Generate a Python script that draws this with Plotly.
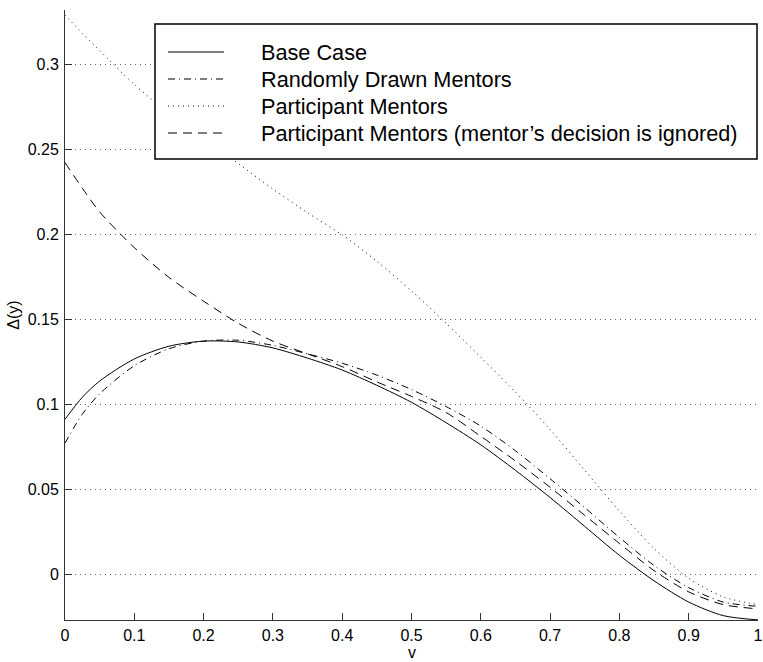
import plotly.graph_objects as go

# Grid of v values at which each curve is tabulated
v = [0.0, 0.025, 0.05, 0.1, 0.15, 0.2, 0.25, 0.3, 0.35, 0.4, 0.45, 0.5,
     0.55, 0.6, 0.65, 0.7, 0.75, 0.8, 0.85, 0.9, 0.95, 1.0]

base_case = [0.091, 0.104, 0.1135, 0.1265, 0.134, 0.137, 0.1365, 0.133, 0.127,
             0.120, 0.111, 0.101, 0.089, 0.076, 0.061, 0.045, 0.028, 0.011,
             -0.004, -0.0165, -0.0245, -0.027]

random_mentors = [0.077, 0.094, 0.106, 0.1225, 0.1325, 0.137, 0.1375, 0.1345,
                  0.1295, 0.124, 0.117, 0.1085, 0.0985, 0.087, 0.0725, 0.056,
                  0.039, 0.0215, 0.005, -0.008, -0.0165, -0.019]

participant_mentors = [0.329, 0.318, 0.308, 0.288, 0.271, 0.2565, 0.2415, 0.2265,
                       0.2125, 0.1995, 0.184, 0.1665, 0.1475, 0.1275, 0.107, 0.085,
                       0.061, 0.037, 0.015, -0.0025, -0.0135, -0.018]

participant_ignored = [0.242, 0.227, 0.213, 0.192, 0.1745, 0.1605, 0.1475, 0.137,
                       0.1295, 0.122, 0.113, 0.1045, 0.095, 0.081, 0.0665, 0.051,
                       0.0345, 0.018, 0.002, -0.0105, -0.018, -0.0205]

series_names = ["Base Case", "Randomly Drawn Mentors", "Participant Mentors",
                "Participant Mentors (mentor\u2019s decision is ignored)"]

x_ticks = [0, 0.1, 0.2, 0.3, 0.4, 0.5, 0.6, 0.7, 0.8, 0.9, 1]
x_tick_labels = ["0", "0.1", "0.2", "0.3", "0.4", "0.5", "0.6", "0.7", "0.8", "0.9", "1"]
y_ticks = [0, 0.05, 0.1, 0.15, 0.2, 0.25, 0.3]
y_tick_labels = ["0", "0.05", "0.1", "0.15", "0.2", "0.25", "0.3"]

FONT = "Liberation Sans, Arial, Helvetica, sans-serif"

# Figure geometry (pixels)
W, H = 763, 662
ML, MR, MT, MB = 65, 5, 10, 42
PW, PH = W - ML - MR, H - MT - MB


def px_x(px):
    return (px - ML) / PW


def px_y(py):
    return (H - MB - py) / PH


styles = ["solid", "7px,4px,1px,4px", "1px,4px", "9px,6px"]
data = [base_case, random_mentors, participant_mentors, participant_ignored]

fig = go.Figure()
for name, ys, dash in zip(series_names, data, styles):
    fig.add_trace(go.Scatter(
        x=v, y=ys, mode="lines", name=name, showlegend=False,
        line=dict(color="black", width=1, dash=dash, shape="spline", smoothing=0.8),
    ))

# Boxed key in the upper part of the axes
shapes = [dict(
    type="rect", xref="paper", yref="paper", layer="above",
    x0=px_x(155), x1=px_x(757), y0=px_y(159), y1=px_y(24),
    line=dict(color="black", width=1.5), fillcolor="white",
)]
annotations = []
row_centers = [52, 79, 106, 133]
for name, dash, py in zip(series_names, styles, row_centers):
    shapes.append(dict(
        type="line", xref="paper", yref="paper", layer="above",
        x0=px_x(168), x1=px_x(224), y0=px_y(py), y1=px_y(py),
        line=dict(color="black", width=1, dash=dash),
    ))
    annotations.append(dict(
        text=name, xref="paper", yref="paper", x=px_x(259), y=px_y(py),
        xanchor="left", yanchor="middle", showarrow=False,
        font=dict(family=FONT, size=21.7, color="black"),
    ))

# x-axis label placed at the bottom edge, under the tick labels
annotations.append(dict(
    text="v", xref="paper", yref="paper", x=0.5, y=px_y(662),
    xanchor="center", yanchor="bottom", showarrow=False, borderpad=0,
    font=dict(family=FONT, size=16, color="black"),
))

fig.update_layout(
    width=W, height=H,
    margin=dict(l=ML, r=MR, t=MT, b=MB, autoexpand=False),
    paper_bgcolor="white", plot_bgcolor="white",
    font=dict(family=FONT, size=16, color="black"),
    showlegend=False,
    shapes=shapes,
    annotations=annotations,
    xaxis=dict(
        range=[0, 1], tickvals=x_ticks, ticktext=x_tick_labels,
        showgrid=False, zeroline=False,
        showline=True, linecolor="#333", linewidth=1,
        ticks="inside", ticklen=7, tickcolor="#333",
        ticklabelstandoff=1,
    ),
    yaxis=dict(
        range=[-0.02706, 0.3318], tickvals=y_ticks, ticktext=y_tick_labels,
        showgrid=True, gridcolor="#666", gridwidth=1, griddash="1px,4px",
        zeroline=False,
        showline=True, linecolor="#333", linewidth=1,
        ticks="inside", ticklen=7, tickcolor="#333",
        ticklabelstandoff=2,
        title=dict(text="\u0394(y)", standoff=4, font=dict(size=16)),
    ),
)

fig.write_html("out.html")
